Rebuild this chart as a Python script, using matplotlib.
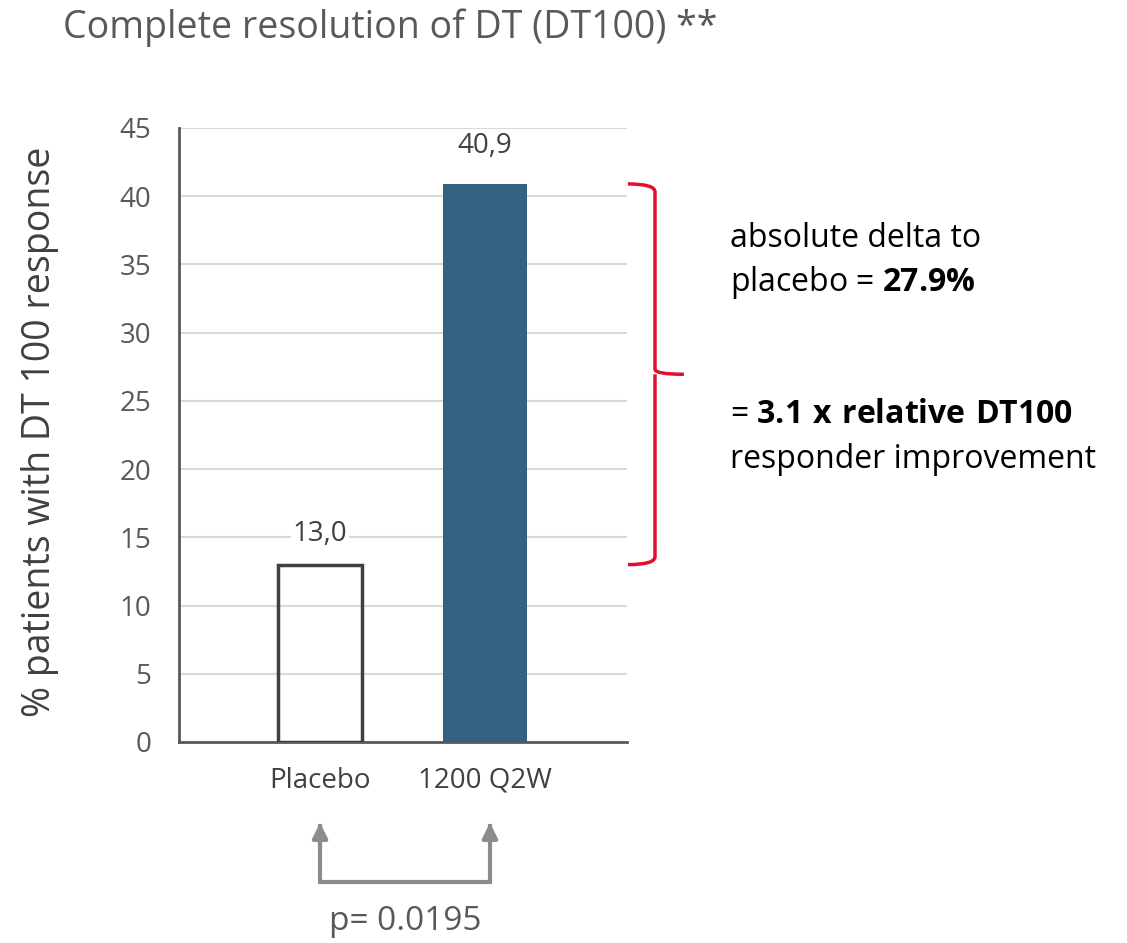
import numpy as np
import matplotlib.pyplot as plt
import matplotlib.transforms as mtransforms
from matplotlib.path import Path
from matplotlib.patches import PathPatch

# data
groups = ["Placebo", "1200 Q2W"]
responders = [13.0, 40.9]
bar_labels = ["13,0", "40,9"]
yticks = list(range(0, 50, 5))
title = "Complete resolution of DT (DT100) **"
ylabel = "% patients with DT 100 response"
p_text = "p= 0.0195"

plt.rcParams['font.family'] = ['Open Sans', 'DejaVu Sans']
plt.rcParams['mathtext.fontset'] = 'custom'
plt.rcParams['mathtext.rm'] = 'Open Sans'
plt.rcParams['mathtext.bf'] = 'Open Sans:bold'

dark = "#595959"
bar_blue = "#336180"
red = "#e0102f"
arrow_gray = "#8c8c8c"

fig = plt.figure(figsize=(11.27, 9.43), dpi=100)
ax = fig.add_axes([179 / 1127, 1 - 742 / 943, 448 / 1127, 614 / 943])

x = np.arange(len(groups))
ax.bar(x[0], responders[0], width=0.51, facecolor="none", edgecolor="#404040", linewidth=2.5, zorder=3)
ax.bar(x[1], responders[1], width=0.51, color=bar_blue, zorder=3)

for xi, v, lab, off in zip(x, responders, bar_labels, (22, 27)):
    ax.annotate(lab, (xi, v), xytext=(0, off), textcoords="offset points", ha="center", va="center",
                fontsize=20, color="#404040", zorder=4,
                bbox=dict(facecolor="white", edgecolor="none", pad=1.5))

ax.set_xlim(-0.855, 1.861)
ax.set_ylim(0, 45)
ax.set_yticks(yticks)
ax.set_xticks(x)
ax.set_xticklabels(groups)
ax.yaxis.grid(True, color="#d9d9d9", linewidth=1.5)
ax.set_axisbelow(True)
for s in ["top", "right"]:
    ax.spines[s].set_visible(False)
ax.spines["left"].set_color(dark)
ax.spines["bottom"].set_color(dark)
ax.spines["left"].set_linewidth(2)
ax.spines["bottom"].set_linewidth(2)
ax.tick_params(axis="both", length=0, labelsize=20, colors=dark)
ax.tick_params(axis="x", colors="#404040")
ax.tick_params(axis="y", pad=20)
ax.tick_params(axis="x", pad=18)
ax.set_ylabel(ylabel, fontsize=27, color="#404040", va="center")
ax.yaxis.set_label_coords((40 - 179) / 448, 0.505)

fig.text(63 / 1127, 1 - 38 / 943, title, fontsize=27, color=dark, ha="left", va="baseline")

# curly brace between the two bar heights (x in axes fraction, y in data)
tr = mtransforms.blended_transform_factory(ax.transAxes, ax.transData)
lo, hi = responders
mid = (lo + hi) / 2
py = 45 / 614
xl, xs, xt = 1.002, 1.0625, 1.127
verts = [(xl, hi), (xs, hi), (xs, hi - 8 * py),
         (xs, mid + 5 * py),
         (xs, mid), (xt, mid), (xs, mid), (xs, mid - 5 * py),
         (xs, lo + 8 * py),
         (xs, lo), (xl, lo)]
codes = [Path.MOVETO, Path.CURVE3, Path.CURVE3,
         Path.LINETO,
         Path.CURVE3, Path.CURVE3, Path.MOVETO, Path.CURVE3,
         Path.LINETO,
         Path.CURVE3, Path.CURVE3]
ax.add_patch(PathPatch(Path(verts, codes), facecolor="none", edgecolor=red, linewidth=2.5,
                       transform=tr, clip_on=False))

txt = dict(fontsize=23, color="black", va="baseline", ha="left")
fig.text(730 / 1127, 1 - 247 / 943, "absolute delta to", **txt)
fig.text(730 / 1127, 1 - 291 / 943, "placebo = $\\mathbf{27.9\\%}$", **txt)
fig.text(730 / 1127, 1 - 423 / 943, "= $\\mathbf{3.1\\ x\\ relative\\ DT100}$", **txt)
fig.text(730 / 1127, 1 - 468 / 943, "responder improvement", **txt)

# significance bracket below the categories
tb = mtransforms.blended_transform_factory(ax.transData, ax.transAxes)
y_base = -(882 - 742) / 614
y_tip = -(820 - 742) / 614
xa, xb = 0, 1.03
ax.plot([xa, xa, xb, xb], [y_tip - 0.01, y_base, y_base, y_tip - 0.01], color=arrow_gray,
        linewidth=3, transform=tb, clip_on=False, solid_joinstyle="miter")
for xx in (xa, xb):
    ax.annotate("", xy=(xx, y_tip), xycoords=tb, xytext=(xx, y_tip - 0.03), textcoords=tb,
                arrowprops=dict(arrowstyle="-|>,head_width=0.45,head_length=0.9", color=arrow_gray, lw=3))
ax.text((xa + xb) / 2, -(922 - 742) / 614, p_text, transform=tb, ha="center", va="center",
        fontsize=24, color=dark)

fig.savefig("out.png", dpi=100)
